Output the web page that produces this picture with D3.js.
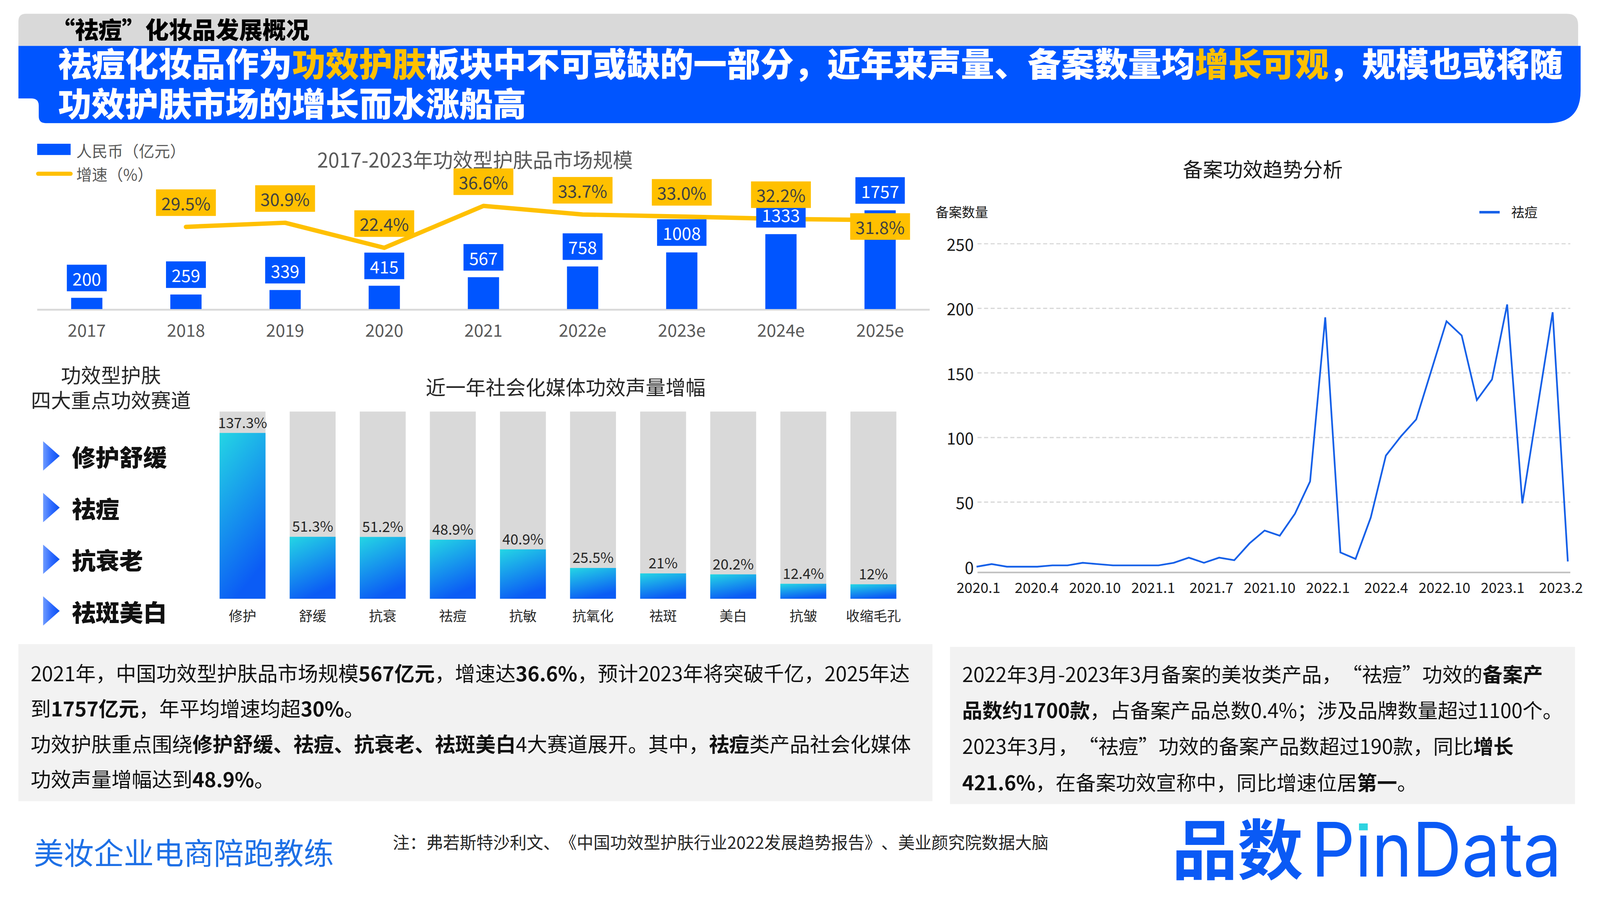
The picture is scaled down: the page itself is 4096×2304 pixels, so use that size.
<!DOCTYPE html>
<html><head><meta charset="utf-8">
<script src="https://cdn.jsdelivr.net/npm/d3@7/dist/d3.min.js"></script>
<style>
html,body{margin:0;padding:0;background:#fff;overflow:hidden}
svg{display:block}
text{font-family:"Noto Sans CJK SC","Noto Sans",sans-serif;text-spacing-trim:space-all}
</style></head>
<body>
<script>
// ---------- DATA ----------
const years = ["2017","2018","2019","2020","2021","2022e","2023e","2024e","2025e"];
const marketSize = [200,259,339,415,567,758,1008,1333,1757];
const growthYears = ["2018","2019","2020","2021","2022e","2023e","2024e","2025e"];
const growthRate = [29.5,30.9,22.4,36.6,33.7,33.0,32.2,31.8];

const efficacyCats = ["修护","舒缓","抗衰","祛痘","抗敏","抗氧化","祛斑","美白","抗皱","收缩毛孔"];
const efficacyGrowth = [137.3,51.3,51.2,48.9,40.9,25.5,21,20.2,12.4,12];
const efficacyLabels = ["137.3%","51.3%","51.2%","48.9%","40.9%","25.5%","21%","20.2%","12.4%","12%"];
const tracks = ["修护舒缓","祛痘","抗衰老","祛斑美白"];

const filingCounts = [0,2,0,0,0,1,1,3,2,1,1,1,1,3,7,3,7,5,18,28,24,41,66,193,11,6,38,86,101,114,152,190,179,129,145,203,49,123,197,4];
const filingTickLabels = ["2020.1","2020.4","2020.10","2021.1","2021.7","2021.10","2022.1","2022.4","2022.10","2023.1","2023.2"];
const filingYTicks = [0,50,100,150,200,250];

const headerText = "“祛痘”化妆品发展概况";
const titleLine1 = [["祛痘化妆品作为",0],["功效护肤",1],["板块中不可或缺的一部分，近年来声量、备案数量均",0],["增长可观",1],["，规模也或将随",0]];
const titleLine2 = [["功效护肤市场的增长而水涨船高",0]];

const leftNotes = [
  [["2021年，中国功效型护肤品市场规模",0],["567亿元",1],["，增速达",0],["36.6%",1],["，预计2023年将突破千亿，2025年达",0]],
  [["到",0],["1757亿元",1],["，年平均增速均超",0],["30%",1],["。",0]],
  [["功效护肤重点围绕",0],["修护舒缓、祛痘、抗衰老、祛斑美白",1],["4大赛道展开。其中，",0],["祛痘",1],["类产品社会化媒体",0]],
  [["功效声量增幅达到",0],["48.9%",1],["。",0]]
];
const rightNotes = [
  [["2022年3月-2023年3月备案的美妆类产品，“祛痘”功效的",0],["备案产",1]],
  [["品数约1700款",1],["，占备案产品总数0.4%；涉及品牌数量超过1100个。",0]],
  [["2023年3月，“祛痘”功效的备案产品数超过190款，同比",0],["增长",1]],
  [["421.6%",1],["，在备案功效宣称中，同比增速位居",0],["第一",1],["。",0]]
];

// ---------- SETUP ----------
const BLUE = "#0055FF", YEL = "#FFC000";
const svg = d3.select("body").append("svg")
  .attr("width",4096).attr("height",2304).attr("viewBox","0 0 5120 2880");
const defs = svg.append("defs");
const g1 = defs.append("linearGradient").attr("id","barGrad").attr("x1",0).attr("y1",0).attr("x2",0.35).attr("y2",1);
g1.append("stop").attr("offset",0).attr("stop-color","#24D6E4");
g1.append("stop").attr("offset",1).attr("stop-color","#0B5CF5");
const g2 = defs.append("linearGradient").attr("id","triGrad").attr("x1",0).attr("y1",0).attr("x2",1).attr("y2",0);
g2.append("stop").attr("offset",0).attr("stop-color","#6E9BFF");
g2.append("stop").attr("offset",0.5).attr("stop-color","#2F6BFF");
g2.append("stop").attr("offset",1).attr("stop-color","#0A50F0");

// ---------- HEADER ----------
svg.append("path").attr("d","M59,147 L59,68 Q59,44 83,44 L5014,44 Q5050,44 5050,80 L5050,147 Z").attr("fill","#D9D9D9");
svg.append("path").attr("d","M59,147 L5058,147 L5058,290 Q5058,394 4954,394 L146,394 Q124,394 124,372 L124,338 Q124,315 100,315 L59,315 Z").attr("fill",BLUE);
svg.append("text").attr("x",165).attr("y",124).attr("font-size",75).attr("font-weight",900).attr("fill","#000").text(headerText);
function rich(sel, segs, colors, weights){
  segs.forEach(s=>{
    const t = sel.append("tspan").text(s[0]);
    if(colors) t.attr("fill", colors[s[1]]);
    if(weights) t.attr("font-weight", weights[s[1]]);
  });
}
rich(svg.append("text").attr("x",186).attr("y",245).attr("font-size",107).attr("font-weight",900), titleLine1, ["#fff",YEL]);
rich(svg.append("text").attr("x",186).attr("y",373).attr("font-size",107).attr("font-weight",900), titleLine2, ["#fff",YEL]);

// ---------- TOP-LEFT: market size ----------
const xB = d3.scaleBand().domain(years).range([119,2975]).paddingInner(0.685).paddingOuter(0.3425);
const yB = d3.scaleLinear().domain([0,d3.max(marketSize)]).range([989,673]);
const yG = d3.scaleLinear().domain([d3.min(growthRate),d3.max(growthRate)]).range([793,659]);
const topG = svg.append("g");
topG.append("rect").attr("x",119).attr("y",460).attr("width",107).attr("height",36).attr("fill",BLUE);
topG.append("text").attr("x",244).attr("y",503).attr("font-size",50).attr("fill","#595959").text("人民币（亿元）");
topG.append("line").attr("x1",122).attr("x2",226).attr("y1",556).attr("y2",556).attr("stroke",YEL).attr("stroke-width",13).attr("stroke-linecap","round");
topG.append("text").attr("x",244).attr("y",578).attr("font-size",50).attr("fill","#595959").text("增速（%）");
topG.append("text").attr("x",1520).attr("y",536).attr("text-anchor","middle").attr("font-size",64).attr("fill","#595959").text("2017-2023年功效型护肤品市场规模");
topG.append("line").attr("x1",119).attr("x2",2975).attr("y1",991).attr("y2",991).attr("stroke","#D9D9D9").attr("stroke-width",6);
topG.selectAll(".xl").data(years).join("text").attr("x",d=>xB(d)+xB.bandwidth()/2).attr("y",1078)
  .attr("text-anchor","middle").attr("font-size",55).attr("fill","#595959").text(d=>d);
topG.selectAll(".bar").data(marketSize).join("rect").attr("x",(d,i)=>xB(years[i])).attr("width",xB.bandwidth())
  .attr("y",d=>yB(d)).attr("height",d=>yB(0)-yB(d)).attr("fill",BLUE);
const cx = y => xB(y)+xB.bandwidth()/2;
topG.append("path").datum(growthRate).attr("fill","none").attr("stroke",YEL).attr("stroke-width",14).attr("stroke-linejoin","round").attr("stroke-linecap","round")
  .attr("d", d3.line().x((d,i)=>cx(growthYears[i])).y(d=>yG(d)));
marketSize.forEach((v,i)=>{
  const g = topG.append("g");
  const t = g.append("text").attr("x",cx(years[i])).attr("font-size",55).attr("fill","#fff").attr("text-anchor","middle").text(v);
  const w = t.node().getComputedTextLength()+36;
  const bottom = yB(v)-21;
  g.insert("rect","text").attr("x",cx(years[i])-w/2).attr("y",bottom-85).attr("width",w).attr("height",85).attr("fill",BLUE);
  t.attr("y",bottom-42.5).attr("dominant-baseline","central");
});
growthRate.forEach((v,i)=>{
  const g = topG.append("g");
  const last = i===growthRate.length-1;
  const t = g.append("text").attr("x",cx(growthYears[i])).attr("font-size",55).attr("fill","#404040").attr("text-anchor","middle").text(v.toFixed(1)+"%");
  const w = t.node().getComputedTextLength()+34;
  const topY = last ? yG(v)-22 : yG(v)-35-85;
  g.insert("rect","text").attr("x",cx(growthYears[i])-w/2).attr("y",topY).attr("width",w).attr("height",85).attr("fill",YEL);
  t.attr("y",topY+42.5).attr("dominant-baseline","central");
});

// ---------- MIDDLE-LEFT ----------
const mid = svg.append("g");
mid.append("text").attr("x",355).attr("y",1225).attr("text-anchor","middle").attr("font-size",64).attr("fill","#262626").text("功效型护肤");
mid.append("text").attr("x",355).attr("y",1305).attr("text-anchor","middle").attr("font-size",64).attr("fill","#262626").text("四大重点功效赛道");
const yT = d3.scalePoint().domain(tracks).range([1459,1955]);
tracks.forEach(t=>{
  const y = yT(t);
  mid.append("path").attr("d",`M138,${y-47} L191,${y} L138,${y+47} Z`).attr("fill","url(#triGrad)");
  mid.append("text").attr("x",230).attr("y",y).attr("dominant-baseline","central").attr("font-size",76).attr("font-weight",900).attr("fill","#111").text(t);
});
mid.append("text").attr("x",1810).attr("y",1264).attr("text-anchor","middle").attr("font-size",64).attr("fill","#262626").text("近一年社会化媒体功效声量增幅");
const xE = d3.scaleBand().domain(efficacyCats).range([664,2907]).paddingInner(0.345).paddingOuter(0.1725);
const yE = d3.scaleLinear().domain([0,155]).range([1916,1317]);
mid.selectAll(".bg").data(efficacyCats).join("rect").attr("x",d=>xE(d)).attr("width",xE.bandwidth())
  .attr("y",yE(155)).attr("height",yE(0)-yE(155)).attr("fill","#D9D9D9");
mid.selectAll(".eb").data(efficacyGrowth).join("rect").attr("x",(d,i)=>xE(efficacyCats[i])).attr("width",xE.bandwidth())
  .attr("y",d=>yE(d)).attr("height",d=>yE(0)-yE(d)).attr("fill","url(#barGrad)");
mid.selectAll(".ev").data(efficacyGrowth).join("text").attr("x",(d,i)=>xE(efficacyCats[i])+xE.bandwidth()/2)
  .attr("y",d=>yE(d)-16).attr("text-anchor","middle").attr("font-size",46).attr("fill","#262626").text((d,i)=>efficacyLabels[i]);
mid.selectAll(".ec").data(efficacyCats).join("text").attr("x",d=>xE(d)+xE.bandwidth()/2).attr("y",1987)
  .attr("text-anchor","middle").attr("font-size",44).attr("fill","#262626").text(d=>d);

// ---------- RIGHT: filing trend ----------
const rt = svg.append("g");
const xF = d3.scalePoint().domain(d3.range(filingCounts.length)).range([3125,5017]);
const yF = d3.scaleLinear().domain([-4.5,250]).range([1832,780]);
const xTick = d3.scaleLinear().domain([0,filingTickLabels.length-1]).range([3131,4995]);
rt.append("text").attr("x",4041).attr("y",566).attr("text-anchor","middle").attr("font-size",64).attr("fill","#1a1a1a").text("备案功效趋势分析");
rt.append("text").attr("x",2994).attr("y",695).attr("font-size",42).attr("fill","#1a1a1a").text("备案数量");
rt.append("line").attr("x1",4734).attr("x2",4799).attr("y1",679).attr("y2",679).attr("stroke","#1560E8").attr("stroke-width",8);
rt.append("text").attr("x",4836).attr("y",695).attr("font-size",42).attr("fill","#1a1a1a").text("祛痘");
rt.selectAll(".gl").data(filingYTicks.filter(d=>d>0)).join("line").attr("x1",3128).attr("x2",5025)
  .attr("y1",d=>yF(d)).attr("y2",d=>yF(d)).attr("stroke","#D9D9D9").attr("stroke-width",4).attr("stroke-dasharray","13,8");
rt.append("line").attr("x1",3128).attr("x2",5025).attr("y1",yF(-4.5)).attr("y2",yF(-4.5)).attr("stroke","#BFBFBF").attr("stroke-width",5);
rt.selectAll(".yl").data(filingYTicks).join("text").attr("x",3116).attr("y",d=>yF(d)).attr("dominant-baseline","central")
  .attr("text-anchor","end").attr("font-size",52).attr("fill","#1a1a1a").text(d=>d);
rt.selectAll(".xl").data(filingTickLabels).join("text").attr("x",(d,i)=>xTick(i)).attr("y",1897)
  .attr("text-anchor","middle").attr("font-size",46).attr("fill","#1a1a1a").text(d=>d);
rt.append("path").datum(filingCounts).attr("fill","none").attr("stroke","#1560E8").attr("stroke-width",5.5).attr("stroke-linejoin","miter")
  .attr("d", d3.line().x((d,i)=>xF(i)).y(d=>yF(d)));

// ---------- NOTE BOXES ----------
svg.append("rect").attr("x",59).attr("y",2061).attr("width",2925).attr("height",503).attr("fill","#F2F2F2");
svg.append("rect").attr("x",3040).attr("y",2070).attr("width",2000).attr("height",503).attr("fill","#F2F2F2");
const lb = [2180,2293,2406,2519], rb = [2183,2298,2412,2529];
leftNotes.forEach((ln,i)=> rich(svg.append("text").attr("x",98).attr("y",lb[i]).attr("font-size",64.7).attr("fill","#111"), ln, null, [400,700]));
rightNotes.forEach((ln,i)=> rich(svg.append("text").attr("x",3079).attr("y",rb[i]).attr("font-size",64.3).attr("fill","#111"), ln, null, [400,700]));

// ---------- FOOTER ----------
svg.append("text").attr("x",108).attr("y",2766).attr("font-size",96).attr("fill","#1E70E6").text("美妆企业电商陪跑教练");
svg.append("text").attr("x",1257).attr("y",2716).attr("font-size",53.5).attr("fill","#262626").text("注：弗若斯特沙利文、《中国功效型护肤行业2022发展趋势报告》、美业颜究院数据大脑");
svg.append("text").attr("x",3750).attr("y",2797).attr("font-size",210).attr("font-weight",700).attr("fill","#0A5AF5").text("品数");
const logo = svg.append("text").attr("x",4196).attr("y",2805).attr("font-size",240).attr("fill","#0A5AF5")
  .style("font-family","Inter, Roboto, sans-serif").attr("textLength",801).attr("lengthAdjust","spacingAndGlyphs").text("PınData");
try{
  const ext = logo.node().getExtentOfChar(1);
  svg.append("rect").attr("x",ext.x+ext.width/2-14).attr("y",2635).attr("width",28).attr("height",22).attr("fill","#2ED3E0");
}catch(e){}
</script>
</body></html>
